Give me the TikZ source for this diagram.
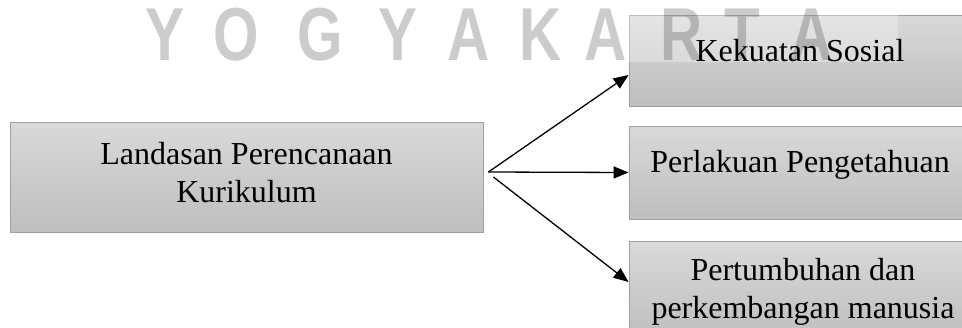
\documentclass[tikz,border=0pt]{standalone}
\usepackage{fontspec}
\setmainfont{Liberation Serif}
\newfontfamily\wmfont{Liberation Sans}
\usetikzlibrary{arrows.meta,calc}
\definecolor{boxtop}{RGB}{217,217,217}
\definecolor{boxbot}{RGB}{190,190,190}
\definecolor{boxedge}{RGB}{160,160,160}
\begin{document}
\begin{tikzpicture}[x=1pt,y=-1pt,
  box/.style={draw=boxedge, line width=0.8pt, top color=boxtop, bottom color=boxbot, inner sep=0pt},
  lbl/.style={font=\fontsize{32}{38}\selectfont, inner sep=0pt, align=center, text=black},
  wm/.style={font=\wmfont\bfseries\fontsize{75}{80}\selectfont, inner sep=0pt, anchor=base, text=black, text opacity=0.2},
  conn/.style={line width=1.3pt, -{Triangle[length=15pt,width=12pt]}}]
\useasboundingbox (0,0) rectangle (962,327);
\clip (0,0) rectangle (962,327);
% boxes
\node[box, minimum width=473pt, minimum height=110pt] (L) at (246.5,177) {};
\node[box, minimum width=343pt, minimum height=91pt] (K) at (800.5,60.5) {};
\node[box, minimum width=343pt, minimum height=93pt] (P) at (800.5,172.5) {};
\node[box, minimum width=343pt, minimum height=99pt] (M) at (800.5,290.5) {};
% watermark
\fill[white, opacity=0.3] (0,0) rectangle (898,62);
\foreach \ch/\cx [count=\i] in {Y/165,O/236,G/320,Y/398,A/469,K/541,A/606,R/682,T/742,A/812}
  \node[wm] (w\i) at (\cx,60) {\scalebox{0.78}[1]{\ch}};
% labels
\node[lbl, anchor=base] (Lt) at (246.5,202) {Landasan Perencanaan\\Kurikulum};
\node[lbl, anchor=base] (Kt) at (800,61) {Kekuatan Sosial};
\node[lbl, anchor=base] (Pt) at (800,172) {Perlakuan Pengetahuan};
\node[lbl, anchor=base] (Mt) at (803,318) {Pertumbuhan dan\\perkembangan manusia};
% connectors
\draw[conn] ([xshift=5pt,yshift=5pt]L.east) -- ([yshift=-14.5pt]K.west);
\draw[conn] ([xshift=5pt,yshift=5pt]L.east) -- (P.west);
\draw[conn] ([xshift=10pt]L.east) -- ([yshift=8.5pt]M.west);
\end{tikzpicture}
\end{document}
